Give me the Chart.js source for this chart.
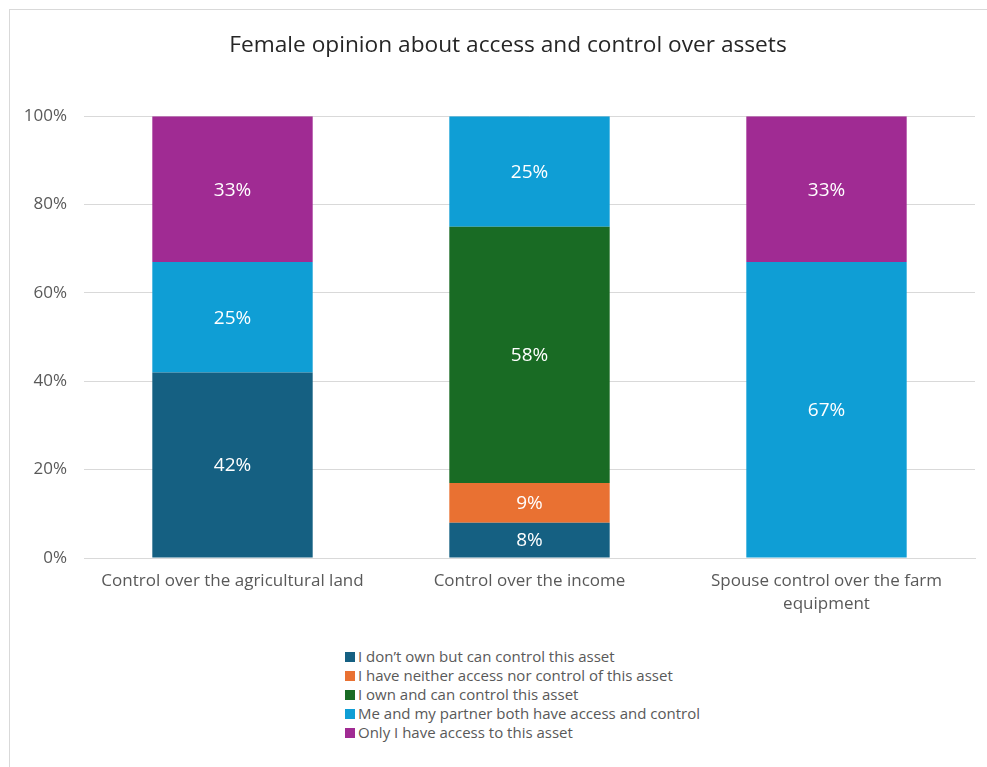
<!DOCTYPE html>
<html>
<head>
<meta charset="utf-8">
<script src="https://cdn.jsdelivr.net/npm/chart.js@4/dist/chart.umd.min.js"></script>
<style>
    html, body { margin: 0; padding: 0; background: #fff; }
    body { width: 987px; height: 767px; overflow: hidden; position: relative; }
    #frame {
        position: absolute; left: 9px; top: 9px;
        width: 998px; height: 770px;
        border: 1px solid #d9d9d9; box-sizing: border-box;
    }
    #wrap { position: absolute; left: 9px; top: 9px; width: 998px; height: 618px; }
    #legend {
        position: absolute; left: 345px; top: 647px;
        font-family: "Open Sans", sans-serif; font-size: 15px; color: #595959;
    }
    #legend div { height: 19px; line-height: 19px; white-space: nowrap; }
    #legend span.box {
        display: inline-block; width: 10px; height: 10px; margin-right: 3px;
        vertical-align: 0px;
    }
</style>
</head>
<body>
<div id="frame"></div>
<div id="wrap"><canvas id="assetChart"></canvas></div>
<div id="legend"></div>
<script>
const categories = [
    "Control over the agricultural land",
    "Control over the income",
    ["Spouse control over the farm", "equipment"],
];
const seriesNames = [
    "I don\u2019t own but can control this asset",
    "I have neither access nor control of this asset",
    "I own and can control this asset",
    "Me and my partner both have access and control",
    "Only I have access to this asset",
];
const seriesColors = ["#156082", "#E97132", "#196B24", "#0F9ED5", "#A02B93"];
const dontOwnButControl = [42, 8, 0];
const neitherAccessNorControl = [0, 9, 0];
const ownAndControl = [0, 58, 0];
const partnerBoth = [25, 25, 67];
const onlyAccess = [33, 0, 33];
const yTicks = [0, 20, 40, 60, 80, 100];

const seriesValues = [dontOwnButControl, neitherAccessNorControl, ownAndControl, partnerBoth, onlyAccess];
const FONT = "'Open Sans', sans-serif";

// draws the percentage in the middle of each bar segment
const segmentLabels = {
    id: "segmentLabels",
    afterDatasetsDraw(chart) {
        const ctx = chart.ctx;
        ctx.save();
        ctx.fillStyle = "#ffffff";
        ctx.font = "19px " + FONT;
        ctx.textAlign = "center";
        ctx.textBaseline = "middle";
        chart.data.datasets.forEach((ds, i) => {
            const meta = chart.getDatasetMeta(i);
            meta.data.forEach((bar, j) => {
                const v = ds.data[j];
                if (!v) return;
                ctx.fillText(v + "%", bar.x, (bar.y + bar.base) / 2 + 1);
            });
        });
        ctx.restore();
    }
};

const chart = new Chart(document.getElementById("assetChart"), {
    type: "bar",
    data: {
        labels: categories,
        datasets: seriesNames.map((name, i) => ({
            label: name,
            data: seriesValues[i],
            backgroundColor: seriesColors[i],
            borderWidth: 0,
            categoryPercentage: 1,
            barPercentage: 0.54,
        })),
    },
    options: {
        responsive: true,
        maintainAspectRatio: false,
        animation: false,
        plugins: {
            legend: { display: false },
            tooltip: { enabled: false },
            title: {
                display: true,
                text: "Female opinion about access and control over assets",
                color: "#262626",
                font: { family: FONT, size: 22.7, weight: "normal", lineHeight: 1.2 },
                padding: { top: 23, bottom: 57 },
            },
        },
        scales: {
            x: {
                stacked: true,
                grid: { display: false, drawTicks: false },
                border: { display: true, color: "#d9d9d9" },
                ticks: {
                    color: "#595959",
                    font: { family: FONT, size: 17, lineHeight: 1.35 },
                    padding: 12,
                    maxRotation: 0,
                },
                afterFit: (s) => { s.height = 69; },
            },
            y: {
                stacked: true,
                min: 0,
                max: 100,
                grid: { color: "#d9d9d9", drawTicks: false },
                border: { display: false },
                afterBuildTicks: (s) => { s.ticks = yTicks.map(v => ({ value: v })); },
                ticks: {
                    color: "#595959",
                    font: { family: FONT, size: 17 },
                    padding: 17,
                    callback: (v) => v + "%",
                },
                afterFit: (s) => { s.width = 75; },
            },
            // empty right-hand gutter so the title stays centred on the whole frame
            gutter: {
                type: "linear",
                position: "right",
                grid: { display: false, drawTicks: false },
                border: { display: false },
                ticks: { display: false },
                afterFit: (s) => { s.width = 32; },
            },
        },
    },
    plugins: [segmentLabels],
});

// vertical legend, one entry per row
const legendEl = document.getElementById("legend");
chart.data.datasets.forEach((ds) => {
    const row = document.createElement("div");
    const box = document.createElement("span");
    box.className = "box";
    box.style.background = ds.backgroundColor;
    row.appendChild(box);
    row.appendChild(document.createTextNode(ds.label));
    legendEl.appendChild(row);
});
</script>
</body>
</html>
